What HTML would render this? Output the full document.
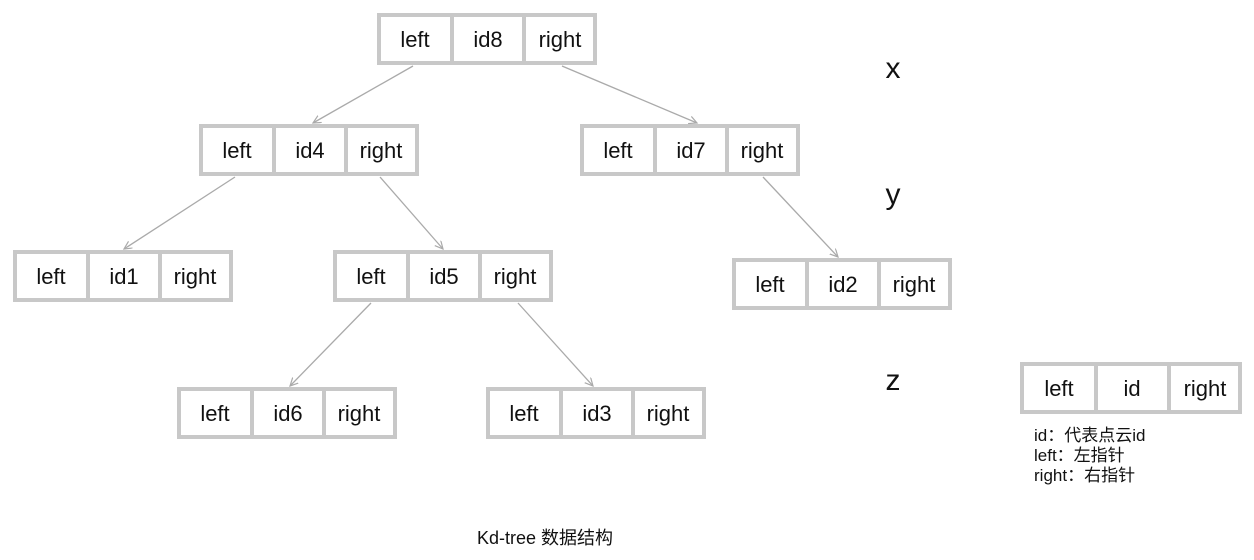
<!DOCTYPE html>
<html><head><meta charset="utf-8"><style>
body{margin:0;background:#fff;}
svg text{font-family:"Liberation Sans","Noto Sans CJK SC",sans-serif;fill:#111;}
</style></head><body>
<svg width="1254" height="555" xmlns="http://www.w3.org/2000/svg">
<defs><marker id="a" markerWidth="10" markerHeight="10" refX="8" refY="4" orient="auto" markerUnits="userSpaceOnUse"><path d="M0,0 L8,4 L0,8" fill="none" stroke="#aaa" stroke-width="1.2"/></marker></defs>
<g stroke="#aaa" stroke-width="1.3" marker-end="url(#a)">
<line x1="413" y1="66" x2="313" y2="123"/>
<line x1="562" y1="66" x2="697" y2="123"/>
<line x1="235" y1="177" x2="124" y2="249"/>
<line x1="380" y1="177" x2="443" y2="249"/>
<line x1="763" y1="177" x2="838" y2="257"/>
<line x1="371" y1="303" x2="290" y2="386"/>
<line x1="518" y1="303" x2="593" y2="386"/>
</g>
<g fill="#fff" stroke="#c8c8c8" stroke-width="4">
<rect x="379" y="15" width="216" height="48"/><path d="M452 13V65M524 13V65"/>
<rect x="201" y="126" width="216" height="48"/><path d="M274 124V176M346 124V176"/>
<rect x="582" y="126" width="216" height="48"/><path d="M655 124V176M727 124V176"/>
<rect x="15" y="252" width="216" height="48"/><path d="M88 250V302M160 250V302"/>
<rect x="335" y="252" width="216" height="48"/><path d="M408 250V302M480 250V302"/>
<rect x="734" y="260" width="216" height="48"/><path d="M807 258V310M879 258V310"/>
<rect x="179" y="389" width="216" height="48"/><path d="M252 387V439M324 387V439"/>
<rect x="488" y="389" width="216" height="48"/><path d="M561 387V439M633 387V439"/>
<rect x="1022" y="364" width="218" height="48"/><path d="M1096 362V414M1169 362V414"/>
</g>
<g font-size="22" text-anchor="middle">
<text x="415" y="47">left</text><text x="488" y="47">id8</text><text x="560" y="47">right</text>
<text x="237" y="158">left</text><text x="310" y="158">id4</text><text x="381" y="158">right</text>
<text x="618" y="158">left</text><text x="691" y="158">id7</text><text x="762" y="158">right</text>
<text x="51" y="284">left</text><text x="124" y="284">id1</text><text x="195" y="284">right</text>
<text x="371" y="284">left</text><text x="444" y="284">id5</text><text x="515" y="284">right</text>
<text x="770" y="292">left</text><text x="843" y="292">id2</text><text x="914" y="292">right</text>
<text x="215" y="421">left</text><text x="288" y="421">id6</text><text x="359" y="421">right</text>
<text x="524" y="421">left</text><text x="597" y="421">id3</text><text x="668" y="421">right</text>
<text x="1059" y="396">left</text><text x="1132" y="396">id</text><text x="1205" y="396">right</text>
</g>
<text x="893" y="78" font-size="30" text-anchor="middle">x</text>
<text x="893" y="204" font-size="30" text-anchor="middle">y</text>
<text x="893" y="390" font-size="30" text-anchor="middle">z</text>
<text x="1034" y="441" font-size="17">id：代表点云id</text>
<text x="1034" y="461" font-size="17">left：左指针</text>
<text x="1034" y="481" font-size="17">right：右指针</text>
<text x="545" y="544" font-size="18" text-anchor="middle">Kd-tree 数据结构</text>
</svg>
</body></html>
